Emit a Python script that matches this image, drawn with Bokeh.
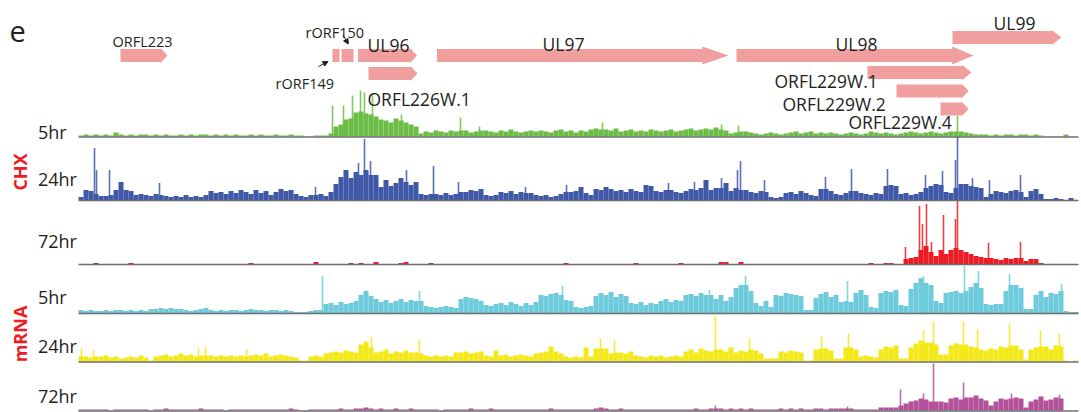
import numpy as np
from bokeh.plotting import figure
from bokeh.models import Range1d, Arrow, NormalHead
from bokeh.core.properties import value
from bokeh.embed import file_html
from bokeh.resources import INLINE

W, H = 1081, 412

# ---------------- coverage data (200 genome bins, relative read depth) ----------------
chx_5hr = [
    1, 2, 1, 2, 1, 2, 1, 4, 2, 1,
    2, 1, 2, 2, 1, 2, 1, 2, 1, 1,
    2, 1, 2, 1, 2, 2, 1, 2, 1, 2,
    1, 2, 1, 1, 2, 1, 2, 1, 1, 2,
    1, 1, 2, 1, 1, 0, 0, 1, 1, 1,
    3, 10, 12, 17, 18, 24, 25, 23, 22, 20,
    17, 16, 14, 18, 16, 14, 12, 10, 3, 5,
    4, 6, 5, 4, 6, 5, 6, 6, 4, 5,
    6, 6, 5, 4, 6, 5, 7, 5, 4, 5,
    6, 5, 6, 5, 4, 6, 7, 5, 6, 4,
    6, 5, 7, 8, 7, 7, 6, 8, 5, 6,
    7, 5, 6, 5, 7, 6, 5, 6, 7, 5,
    6, 7, 8, 6, 7, 8, 7, 9, 7, 6,
    3, 4, 5, 5, 4, 3, 2, 3, 4, 3,
    2, 3, 4, 5, 3, 4, 5, 3, 4, 3,
    4, 3, 2, 3, 4, 3, 2, 3, 5, 4,
    3, 4, 3, 2, 3, 4, 5, 4, 3, 4,
    5, 4, 3, 4, 5, 5, 5, 4, 3, 2,
    2, 2, 1, 2, 1, 2, 2, 1, 2, 2,
    1, 2, 1, 0, 0, 0, 0, 2, 0, 0,
]
chx_5hr_spike_pos = [50.8, 53.0, 54.8, 56.4, 57.2, 58.8, 64.6, 76.4, 80.2, 104.8, 128.6, 132.0, 175.8]
chx_5hr_spike_val = [31, 31, 41, 46, 44, 42, 22, 19, 10, 14, 12, 11, 21]

chx_24hr = [
    3, 10, 9, 6, 4, 4, 5, 10, 18, 10,
    9, 5, 6, 5, 4, 6, 5, 4, 3, 4,
    3, 5, 3, 4, 3, 5, 9, 7, 8, 6,
    9, 7, 10, 8, 6, 10, 7, 9, 5, 8,
    11, 9, 10, 6, 4, 3, 5, 5, 6, 4,
    8, 16, 23, 30, 22, 28, 25, 30, 25, 25,
    13, 20, 14, 17, 22, 18, 15, 18, 6, 5,
    6, 6, 5, 7, 5, 6, 8, 8, 10, 9,
    11, 5, 4, 5, 8, 7, 9, 6, 8, 7,
    7, 5, 4, 5, 3, 4, 6, 8, 8, 9,
    13, 7, 5, 11, 10, 13, 11, 9, 10, 8,
    11, 9, 8, 15, 14, 9, 8, 10, 10, 8,
    7, 9, 11, 10, 12, 20, 10, 12, 12, 17,
    9, 12, 10, 10, 8, 7, 9, 8, 3, 2,
    3, 7, 8, 6, 9, 7, 5, 4, 11, 11,
    9, 6, 5, 7, 9, 9, 7, 6, 5, 7,
    6, 14, 15, 14, 6, 7, 5, 6, 8, 12,
    14, 16, 15, 8, 7, 12, 16, 16, 14, 13,
    12, 3, 6, 9, 8, 7, 9, 10, 8, 3,
    9, 11, 6, 1, 1, 2, 1, 0, 2, 0,
]
chx_24hr_spike_pos = [3.2, 3.6, 6.2, 16.2, 47.4, 56.0, 57.2, 58.4, 65.6, 71.0, 76.0, 89.4,
                      97.6, 118.0, 123.2, 128.6, 131.8, 132.4, 137.2, 149.4, 154.6, 161.8,
                      169.4, 172.8, 175.4, 175.8, 178.8, 182.2, 188.4]
chx_24hr_spike_val = [52, 30, 30, 17, 13, 37, 61, 39, 30, 34, 18, 13,
                      15, 17, 18, 22, 30, 39, 20, 23, 31, 31,
                      25, 29, 40, 63, 22, 20, 25]

chx_72hr = [
    0, 0, 0, 1, 0, 0, 0, 0, 0, 0,
    1, 0, 0, 0, 0, 0, 0, 0, 0, 0,
    0, 0, 0, 0, 0, 0, 0, 0, 0, 0,
    0, 0, 0, 0, 1, 0, 0, 0, 0, 0,
    0, 0, 0, 0, 0, 0, 0, 2, 0, 0,
    0, 0, 0, 0, 1, 0, 1, 0, 0, 2,
    0, 0, 0, 0, 1, 2, 0, 0, 0, 0,
    1, 0, 0, 0, 0, 0, 0, 0, 0, 0,
    0, 0, 0, 0, 0, 0, 0, 0, 0, 0,
    0, 0, 0, 0, 0, 0, 0, 1, 0, 0,
    0, 0, 0, 0, 0, 0, 0, 0, 0, 0,
    0, 1, 0, 0, 0, 0, 0, 0, 0, 0,
    1, 0, 0, 0, 0, 0, 0, 0, 2, 2,
    0, 0, 2, 0, 0, 0, 0, 0, 0, 0,
    0, 0, 0, 0, 0, 0, 0, 0, 0, 0,
    0, 0, 0, 0, 0, 0, 0, 0, 1, 0,
    0, 1, 1, 0, 0, 5, 6, 7, 14, 18,
    12, 8, 14, 10, 14, 16, 14, 12, 10, 8,
    7, 6, 6, 5, 4, 6, 5, 6, 6, 3,
    5, 5, 1, 0, 0, 0, 0, 0, 0, 0,
]
chx_72hr_spike_pos = [165.4, 168.2, 168.8, 169.6, 170.6, 173.0, 175.4, 175.8, 182.0, 188.4]
chx_72hr_spike_val = [17, 58, 40, 60, 22, 49, 45, 63, 21, 22]

mrna_5hr = [
    3, 2, 3, 2, 2, 3, 2, 3, 3, 2,
    3, 2, 3, 2, 4, 4, 5, 4, 5, 4,
    4, 3, 2, 3, 4, 5, 3, 2, 3, 2,
    3, 3, 2, 3, 4, 3, 3, 2, 3, 3,
    2, 3, 2, 1, 1, 1, 2, 3, 3, 9,
    10, 8, 11, 9, 10, 12, 18, 22, 17, 14,
    11, 13, 10, 12, 14, 11, 13, 12, 12, 7,
    6, 5, 6, 7, 6, 5, 14, 16, 15, 14,
    12, 8, 7, 9, 10, 8, 11, 9, 7, 10,
    8, 11, 18, 17, 19, 20, 18, 13, 12, 6,
    5, 6, 7, 17, 20, 18, 21, 16, 19, 17,
    10, 9, 11, 8, 10, 9, 12, 14, 11, 13,
    12, 18, 19, 17, 20, 18, 18, 14, 18, 12,
    16, 25, 28, 28, 22, 10, 7, 12, 6, 18,
    17, 20, 19, 18, 17, 3, 3, 15, 19, 21,
    16, 18, 11, 12, 11, 20, 23, 18, 6, 5,
    20, 22, 21, 23, 8, 7, 24, 30, 35, 30,
    28, 12, 10, 20, 21, 22, 20, 22, 26, 30,
    25, 9, 8, 9, 9, 22, 28, 28, 25, 4,
    4, 18, 22, 16, 20, 19, 22, 2, 1, 1,
]
mrna_5hr_spike_pos = [48.8, 68.2, 96.8, 126.2, 133.4, 153.8, 169.0, 177.2, 180.0, 186.2, 196.6]
mrna_5hr_spike_val = [37, 22, 27, 23, 37, 32, 37, 47, 42, 39, 29]

mrna_24hr = [
    5, 5, 4, 5, 5, 6, 4, 5, 3, 4,
    5, 4, 6, 4, 1, 5, 6, 7, 5, 6,
    8, 6, 7, 5, 6, 6, 6, 5, 6, 5,
    6, 5, 6, 5, 6, 7, 6, 8, 5, 6,
    7, 6, 5, 4, 1, 1, 5, 6, 5, 8,
    9, 10, 9, 11, 10, 9, 17, 20, 14, 9,
    10, 12, 8, 10, 9, 11, 9, 9, 8, 6,
    5, 6, 5, 6, 5, 9, 9, 10, 8, 9,
    10, 6, 5, 11, 6, 7, 5, 6, 7, 6,
    5, 8, 9, 10, 15, 10, 8, 5, 4, 5,
    4, 14, 5, 13, 13, 13, 8, 9, 9, 8,
    10, 6, 5, 4, 6, 5, 6, 4, 5, 6,
    5, 10, 12, 9, 13, 11, 10, 12, 12, 10,
    14, 9, 11, 10, 12, 11, 8, 3, 3, 3,
    10, 9, 11, 10, 9, 1, 1, 12, 13, 13,
    11, 3, 3, 14, 14, 12, 5, 6, 5, 4,
    12, 15, 14, 16, 3, 3, 14, 18, 21, 19,
    19, 17, 7, 7, 16, 18, 17, 17, 15, 14,
    12, 11, 13, 12, 15, 14, 16, 16, 12, 2,
    12, 14, 15, 15, 12, 16, 15, 1, 0, 1,
]
mrna_24hr_spike_pos = [0.6, 3.0, 24.0, 25.4, 33.6, 58.6, 68.2, 104.4, 107.2, 127.4, 134.2,
                       148.6, 154.0, 169.0, 171.0, 177.0, 179.8, 186.2, 192.4, 196.2]
mrna_24hr_spike_val = [13, 11, 13, 15, 12, 25, 22, 23, 21, 45, 23,
                       25, 28, 31, 40, 40, 32, 38, 31, 28]

mrna_72hr = [
    1, 1, 1, 1, 1, 1, 0, 1, 1, 1,
    1, 1, 1, 1, 0, 1, 1, 2, 1, 1,
    1, 1, 1, 1, 2, 1, 1, 1, 1, 0,
    1, 1, 1, 1, 1, 1, 1, 1, 1, 1,
    1, 1, 2, 1, 0, 0, 1, 1, 1, 1,
    1, 1, 2, 1, 1, 2, 2, 3, 2, 1,
    2, 1, 1, 2, 1, 1, 2, 1, 1, 1,
    1, 1, 0, 1, 1, 1, 1, 1, 2, 1,
    1, 1, 2, 1, 1, 1, 1, 1, 1, 1,
    1, 1, 1, 1, 2, 1, 1, 1, 1, 1,
    1, 1, 1, 2, 3, 2, 1, 1, 2, 1,
    1, 1, 1, 1, 1, 1, 1, 1, 1, 1,
    1, 1, 1, 2, 1, 1, 2, 2, 2, 1,
    2, 1, 2, 1, 2, 1, 1, 1, 1, 1,
    2, 1, 2, 1, 2, 1, 1, 2, 2, 1,
    2, 2, 2, 2, 2, 1, 1, 1, 1, 1,
    3, 3, 3, 3, 5, 7, 9, 10, 12, 11,
    9, 9, 9, 8, 12, 13, 11, 13, 13, 15,
    12, 10, 5, 9, 12, 11, 12, 13, 12, 3,
    9, 11, 14, 10, 11, 13, 12, 0, 0, 0,
]
mrna_72hr_spike_pos = [127.4, 153.8, 164.4, 169.0, 171.0, 177.0, 186.6, 196.2]
mrna_72hr_spike_val = [5, 4, 21, 17, 47, 28, 17, 16]

track_labels = ["5hr", "24hr", "72hr", "5hr", "24hr", "72hr"]
group_labels = ["CHX", "mRNA"]

# ---------------- gene annotation (genome bin units) ----------------
gene_names = ["ORFL223", "rORF149", "rORF150", "UL96", "ORFL226W.1", "UL97",
              "UL98", "UL99", "ORFL229W.1", "ORFL229W.2", "ORFL229W.4"]
gene_start = [8.4, 50.8, 52.6, 55.9, 58.0, 71.7, 131.6, 174.8, 157.8, 163.6, 172.4]
gene_end = [17.8, 52.2, 55.0, 67.7, 67.8, 130.0, 179.0, 196.6, 178.6, 178.0, 178.0]
gene_kind = ["arrow", "box", "box", "arrow", "arrow", "arrow",
             "arrow", "arrow", "arrow", "arrow", "arrow"]

# ---------------- layout (pixels from top-left) ----------------
X0 = 78.0      # pixel where bin 0 starts
BW = 5.0       # pixels per bin
def ux(px):
    return (px - X0) / BW
def uy(py):
    return H - py

n = len(chx_5hr)
pos = np.arange(n) + 0.5

p = figure(width=W, height=H, x_range=Range1d(ux(0), ux(W)), y_range=Range1d(0, H),
           output_backend="svg", toolbar_location=None, min_border=0,
           x_axis_location=None, y_axis_location=None)
p.grid.visible = False
p.outline_line_color = None
p.background_fill_color = "white"
p.border_fill_color = "white"

FONT = value("Open Sans")
TXT = "#231F20"
RED = "#ED1C24"

tracks = [
    (chx_5hr, chx_5hr_spike_pos, chx_5hr_spike_val),
    (chx_24hr, chx_24hr_spike_pos, chx_24hr_spike_val),
    (chx_72hr, chx_72hr_spike_pos, chx_72hr_spike_val),
    (mrna_5hr, mrna_5hr_spike_pos, mrna_5hr_spike_val),
    (mrna_24hr, mrna_24hr_spike_pos, mrna_24hr_spike_val),
    (mrna_72hr, mrna_72hr_spike_pos, mrna_72hr_spike_val),
]
colors = ["#6CBD45", "#3F58A8", "#ED1C24", "#6DCBDB", "#F3E918", "#B4519B"]
base_px = [136.0, 199.5, 263.5, 312.5, 361.0, 410.0]
label_base_px = [131.5, 178.0, 240.0, 296.5, 345.0, 395.0]

for (vals, sp, sv), col, b in zip(tracks, colors, base_px):
    v = np.asarray(vals, dtype=float)
    p.vbar(x=pos, width=1.0, bottom=uy(b), top=uy(b) + v,
           fill_color=col, line_color=None)
    p.vbar(x=sp, width=0.32, bottom=uy(b), top=uy(b) + np.asarray(sv, dtype=float),
           fill_color=col, fill_alpha=0.85, line_color=None)
    p.segment(x0=[0], y0=[uy(b) - 0.6], x1=[n], y1=[uy(b) - 0.6],
              line_color="#6D6E71", line_width=1.5)

p.text(x=[ux(37.5)] * 6, y=[uy(v) for v in label_base_px], text=track_labels,
       text_font=FONT, text_font_size=value("18px"), text_color=TXT,
       text_baseline="alphabetic", text_align="left")

p.text(x=[ux(19.5), ux(19.5)], y=[uy(171.5), uy(333.5)], text=group_labels,
       angle=np.pi / 2, text_font=FONT, text_font_size=value("18px"),
       text_font_style="bold", text_color=RED,
       text_baseline="alphabetic", text_align="center")

p.text(x=[ux(9)], y=[uy(30.5)], text=["e"], text_font=FONT,
       text_font_size=value("29px"), text_color=TXT, text_baseline="alphabetic")

# gene arrows
row_px = {"ORFL223": 55, "rORF149": 55, "rORF150": 55, "UL96": 55, "ORFL226W.1": 73,
          "UL97": 55, "UL98": 55, "UL99": 37, "ORFL229W.1": 72, "ORFL229W.2": 90.5,
          "ORFL229W.4": 108.5}
xs, ys = [], []
for name, s, e, kind in zip(gene_names, gene_start, gene_end, gene_kind):
    yc = uy(row_px[name])
    h = 6.5
    if kind == "box":
        xs.append([s, e, e, s])
        ys.append([yc - h, yc - h, yc + h, yc + h])
    else:
        L = e - s
        hl = max(1.4, 0.09 * L)
        hh = 9.0 if L > 30 else 7.5
        xs.append([s, e - hl, e - hl, e, e - hl, e - hl, s])
        ys.append([yc - h, yc - h, yc - hh, yc, yc + hh, yc + h, yc + h])
p.patches(xs=xs, ys=ys, fill_color="#F09E9E", line_color=None)

# gene labels
small_lab = ["ORFL223", "rORF150", "rORF149"]
small_pos = [(112, 41), (305, 32), (275, 83)]
p.text(x=[ux(a) for a, b in small_pos], y=[uy(b) for a, b in small_pos], text=small_lab,
       text_font=FONT, text_font_size=value("14.5px"), text_color=TXT,
       text_baseline="alphabetic", text_align="left")
big_lab = ["UL96", "ORFL226W.1", "UL97", "UL98", "UL99",
           "ORFL229W.1", "ORFL229W.2", "ORFL229W.4"]
big_pos = [(367, 44), (367, 98), (542, 43), (835, 43), (993, 22),
           (774, 80), (782, 103), (848, 121)]
p.text(x=[ux(a) for a, b in big_pos], y=[uy(b) for a, b in big_pos], text=big_lab,
       text_font=FONT, text_font_size=value("17.5px"), text_color=TXT,
       text_baseline="alphabetic", text_align="left")

for (xa, ya, xb, yb) in [(342.5, 34.5, 347.8, 43.5), (318.0, 66.0, 327.5, 61.0)]:
    p.add_layout(Arrow(end=NormalHead(size=5, fill_color=TXT, line_color=TXT),
                       x_start=ux(xa), y_start=uy(ya), x_end=ux(xb), y_end=uy(yb),
                       line_color=TXT, line_width=1))

open("out.html", "w").write(file_html(p, INLINE))
